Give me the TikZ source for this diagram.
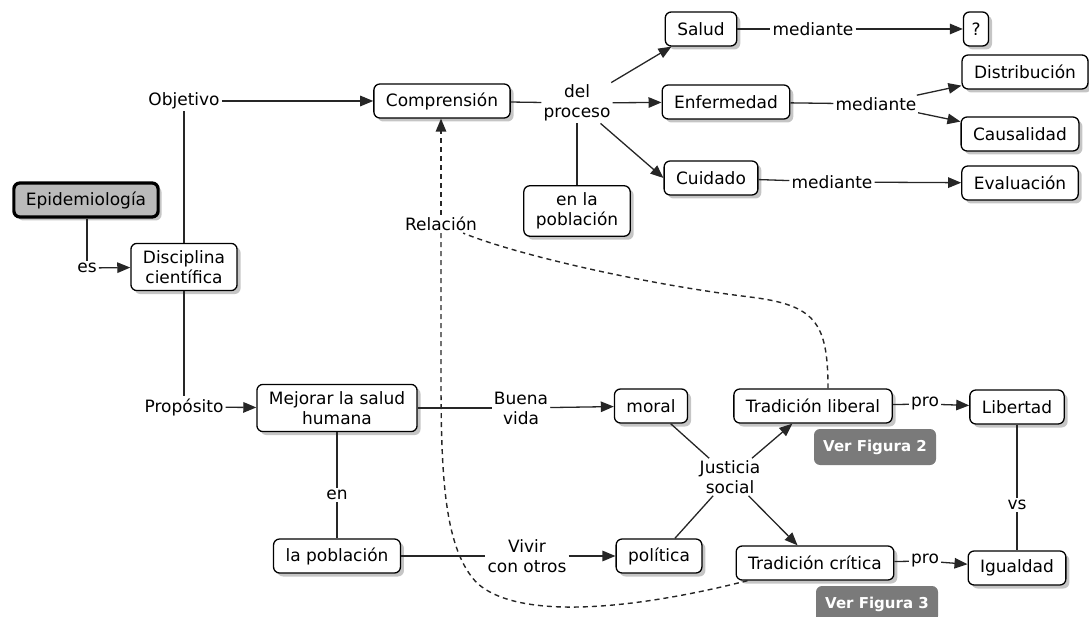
\documentclass[tikz,border=0pt]{standalone}
\usepackage{fontspec}
\setmainfont{DejaVu Sans}
\usetikzlibrary{arrows.meta,shadows}
\newcommand\fsz{\fontsize{17}{20}\selectfont}
\newcommand\fbz{\fontsize{15}{18}\selectfont\bfseries}
\begin{document}
\begin{tikzpicture}[x=1pt,y=-1pt,
  cbox/.style={draw=black, line width=1.3pt, rounded corners=6pt, fill=white,
    inner xsep=12pt, inner ysep=7pt, minimum height=34pt, align=center, font=\fsz,
    drop shadow={shadow xshift=3.5pt,shadow yshift=-3.5pt,fill=black!45}},
  epibox/.style={cbox, fill=black!27, line width=3.2pt},
  lnk/.style={inner sep=2pt, align=center, font=\fsz},
  figbox/.style={fill=black!52, text=white, rounded corners=6pt, font=\fbz,
    minimum width=122pt, minimum height=36pt},
  con/.style={draw=black!85, line width=1.3pt},
  tip/.style={-{Triangle[length=13pt,width=10.5pt]}},
  arr/.style={con, tip},
  dsh/.style={con, line width=1.4pt, dash pattern=on 5pt off 4pt}]
\useasboundingbox (0,0) rectangle (1089,617);

% concepts
\node[epibox] (epi) at (86,200) {Epidemiología};
\node[cbox] (disc) at (184,267) {Disciplina\\científica};
\node[cbox] (comp) at (442,101) {Comprensión};
\node[cbox] (enpob) at (577,211) {en la\\población};
\node[cbox] (salud) at (701,29) {Salud};
\node[cbox, inner xsep=8pt] (q) at (976,29) {?};
\node[cbox] (enf) at (726,102) {Enfermedad};
\node[cbox] (dist) at (1025,72) {Distribución};
\node[cbox] (caus) at (1020,134) {Causalidad};
\node[cbox] (cuid) at (711,178) {Cuidado};
\node[cbox] (eval) at (1020,183) {Evaluación};
\node[cbox] (mej) at (337,408) {Mejorar la salud\\humana};
\node[cbox] (lapob) at (337,556) {la población};
\node[cbox] (moral) at (651,406) {moral};
\node[cbox] (pol) at (659,556) {política};
\node[cbox] (tlib) at (813,406) {Tradición liberal};
\node[figbox] (vf2) at (875,447) {Ver Figura 2};
\node[cbox] (lib) at (1017,407) {Libertad};
\node[cbox] (tcrit) at (815,563) {Tradición crítica};
\node[figbox] (vf3) at (877,604) {Ver Figura 3};
\node[cbox] (igu) at (1017,568) {Igualdad};

% linking phrases
\node[lnk] (es) at (87,268) {es};
\node[lnk] (obj) at (184,101) {Objetivo};
\node[lnk] (prop) at (184,407) {Propósito};
\node[lnk] (delp) at (577,103) {del\\proceso};
\node[lnk] (med1) at (813,29) {mediante};
\node[lnk] (med2) at (876,104) {mediante};
\node[lnk] (med3) at (832,182) {mediante};
\node[lnk] (en) at (337,495) {en};
\node[lnk] (buena) at (521,408) {Buena\\vida};
\node[lnk] (vivir) at (527,556) {Vivir\\con otros};
\node[lnk] (just) at (730,477) {Justicia\\social};
\node[lnk] (pro1) at (925,404) {pro};
\node[lnk] (pro2) at (925,561) {pro};
\node[lnk] (vs) at (1017,505) {vs};
\node[lnk] (rel) at (441,224) {Relación};

% connectors
\draw[con] (epi.south -| es) -- (es);
\draw[arr] (es) -- (disc);
\draw[con] (disc) -- (obj);
\draw[arr] (obj) -- (comp);
\draw[con] (disc) -- (prop);
\draw[arr] (prop) -- (mej);
\draw[con] (comp) -- (delp);
\draw[arr] (delp) -- (salud);
\draw[arr] (delp) -- (enf);
\draw[arr] (delp) -- (cuid.west);
\draw[con] (delp) -- (enpob);
\draw[con] (salud) -- (med1);
\draw[arr] (med1) -- (q);
\draw[con] (enf) -- (med2);
\draw[arr] (med2) -- (dist);
\draw[arr] (med2) -- (caus);
\draw[con] (cuid) -- (med3);
\draw[arr] (med3) -- (eval);
\draw[con] (mej) -- (buena);
\draw[arr] (buena) -- (moral);
\draw[con] (mej) -- (en);
\draw[con] (en) -- (lapob);
\draw[con] (lapob) -- (vivir);
\draw[arr] (vivir) -- (pol);
\draw[con] (moral) -- (just);
\draw[con] (pol) -- (just);
\draw[arr] (just) -- (tlib);
\draw[arr] (just) -- (tcrit);
\draw[con] (tlib) -- (pro1);
\draw[arr] (pro1) -- (lib);
\draw[con] (tcrit) -- (pro2);
\draw[arr] (pro2) -- (igu);
\draw[con] (lib) -- (vs);
\draw[con] (vs) -- (igu);

% dashed relation
\draw[dsh] ([xshift=15pt]tlib.north) .. controls (828,322) and (815,305) .. (750,297)
  .. controls (650,285) and (520,256) .. ([xshift=-16pt]rel.south east);
\draw[dsh] ([xshift=12pt]tcrit.south west) .. controls (640,608) and (520,622) .. (477,583)
  .. controls (445,550) and (441,480) .. (441,380) -- (rel.south);
\draw[dsh, tip] (rel.north) -- (rel.north |- comp.south);
\end{tikzpicture}
\end{document}
